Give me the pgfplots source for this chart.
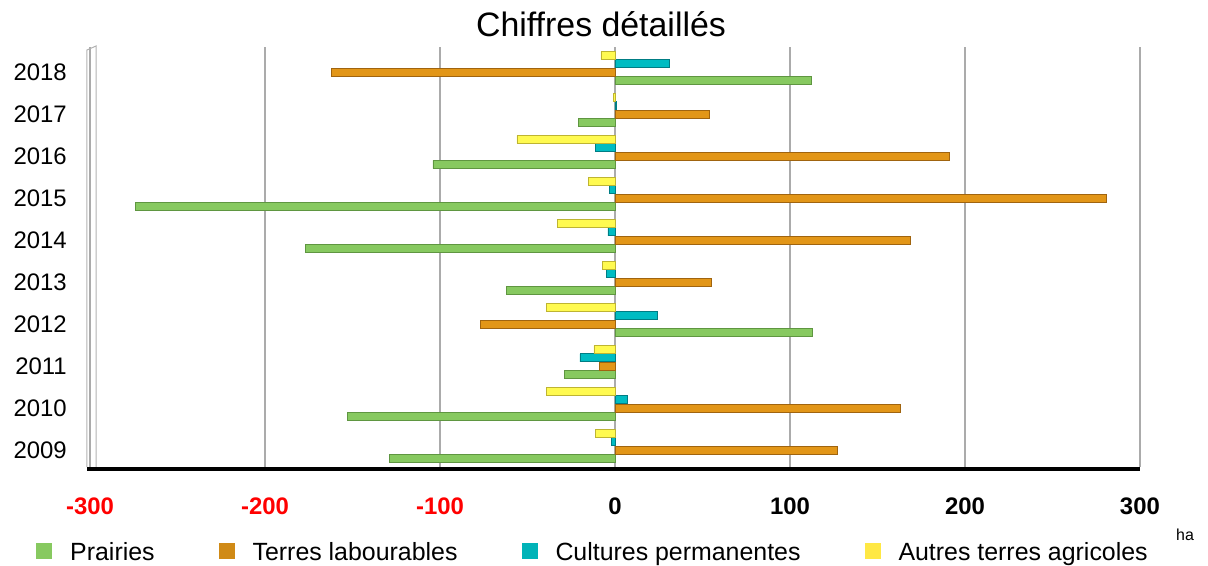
\documentclass[border=0pt]{standalone}
\usepackage{pgfplots}
\pgfplotsset{compat=1.18}
\usepackage{fontspec}
\setmainfont{Liberation Sans}
\definecolor{cgreen}{RGB}{135,201,96}
\definecolor{cgreenD}{RGB}{95,150,65}
\definecolor{corange}{RGB}{226,150,24}
\definecolor{corangeD}{RGB}{160,100,15}
\definecolor{cteal}{RGB}{0,188,194}
\definecolor{ctealD}{RGB}{0,125,132}
\definecolor{cyellow}{RGB}{255,250,80}
\definecolor{cyellowD}{RGB}{190,180,50}
\begin{document}
\begin{tikzpicture}
\path[use as bounding box] (0,0) rectangle (1208bp,566bp);
\begin{axis}[
  at={(90bp,99bp)}, anchor=south west,
  scale only axis, width=1050bp, height=420bp,
  clip=false,
  xmin=-300, xmax=300, ymin=-0.5, ymax=9.5,
  xtick={-300,-200,-100,0,100,200,300},
  xticklabels={{\textcolor{red}{-300}},{\textcolor{red}{-200}},{\textcolor{red}{-100}},0,100,200,300},
  ytick={0,1,2,3,4,5,6,7,8,9},
  yticklabels={2009,2010,2011,2012,2013,2014,2015,2016,2017,2018},
  axis line style={draw=none},
  major tick style={draw=none},
  xmajorgrids, grid style={draw=black!33, line width=1.2bp},
  xticklabel style={font=\fontsize{24}{24}\selectfont\bfseries, anchor=base, inner sep=0pt, yshift=-47bp},
  yticklabel style={font=\fontsize{24}{24}\selectfont, anchor=base east, inner sep=0pt, xshift=-23bp, yshift=-12.5bp},
  legend columns=4,
  legend style={at={(-0.0514,-0.2024)}, anchor=west, draw=none, fill=none, inner sep=0pt,
    font=\fontsize{25}{25}\selectfont, cells={anchor=base west},
    /tikz/every odd column/.style={column sep=16bp},
    /tikz/every even column/.style={column sep=62bp}},
  legend image code/.code={\fill[#1, draw=none] (0bp,1bp) rectangle (16bp,17bp);},
]
\addplot[xbar, bar width=8bp, bar shift=-12.5bp, draw=cgreenD, line width=0.6bp, fill=cgreen, forget plot]
  coordinates {(-129,0) (-153,1) (-29,2) (113,3) (-62,4) (-177,5) (-274,6) (-104,7) (-21,8) (112,9)};
\addplot[xbar, bar width=8bp, bar shift=-4.2bp, draw=corangeD, line width=0.6bp, fill=corange, forget plot]
  coordinates {(127,0) (163,1) (-9,2) (-77,3) (55,4) (169,5) (281,6) (191,7) (54,8) (-162,9)};
\addplot[xbar, bar width=8bp, bar shift=4.2bp, draw=ctealD, line width=0.6bp, fill=cteal, forget plot]
  coordinates {(-2,0) (7,1) (-20,2) (24,3) (-5,4) (-4,5) (-3,6) (-11,7) (1,8) (31,9)};
\addplot[xbar, bar width=8bp, bar shift=12.5bp, draw=cyellowD, line width=0.6bp, fill=cyellow, forget plot]
  coordinates {(-11,0) (-39,1) (-12,2) (-39,3) (-7,4) (-33,5) (-15,6) (-56,7) (-1,8) (-8,9)};
\addlegendimage{fill=cgreen}
\addlegendentry{Prairies}
\addlegendimage{fill=corange!92!black}
\addlegendentry{Terres labourables}
\addlegendimage{fill=cteal!95!black}
\addlegendentry{Cultures permanentes}
\addlegendimage{fill=cyellow!85!orange}
\addlegendentry{Autres terres agricoles}
\draw[black!30, line width=1bp] ([xshift=-3bp]rel axis cs:0,0) -- ([xshift=-3bp,yshift=-3bp]rel axis cs:0,1) -- ([xshift=6bp,yshift=1bp]rel axis cs:0,1) -- ([xshift=6bp]rel axis cs:0,0);
\draw[black!35, line width=0.8bp] (rel axis cs:0,0) -- (rel axis cs:1,0);
\draw[black, line width=3.5bp] ([xshift=-3bp,yshift=-2bp]rel axis cs:0,0) -- ([yshift=-2bp]rel axis cs:1,0);
\end{axis}
\node[font=\fontsize{34}{34}\selectfont, anchor=base] at (601bp,529bp) {Chiffres détaillés};
\node[font=\fontsize{16}{16}\selectfont, anchor=base] at (1185bp,26bp) {ha};
\end{tikzpicture}
\end{document}
